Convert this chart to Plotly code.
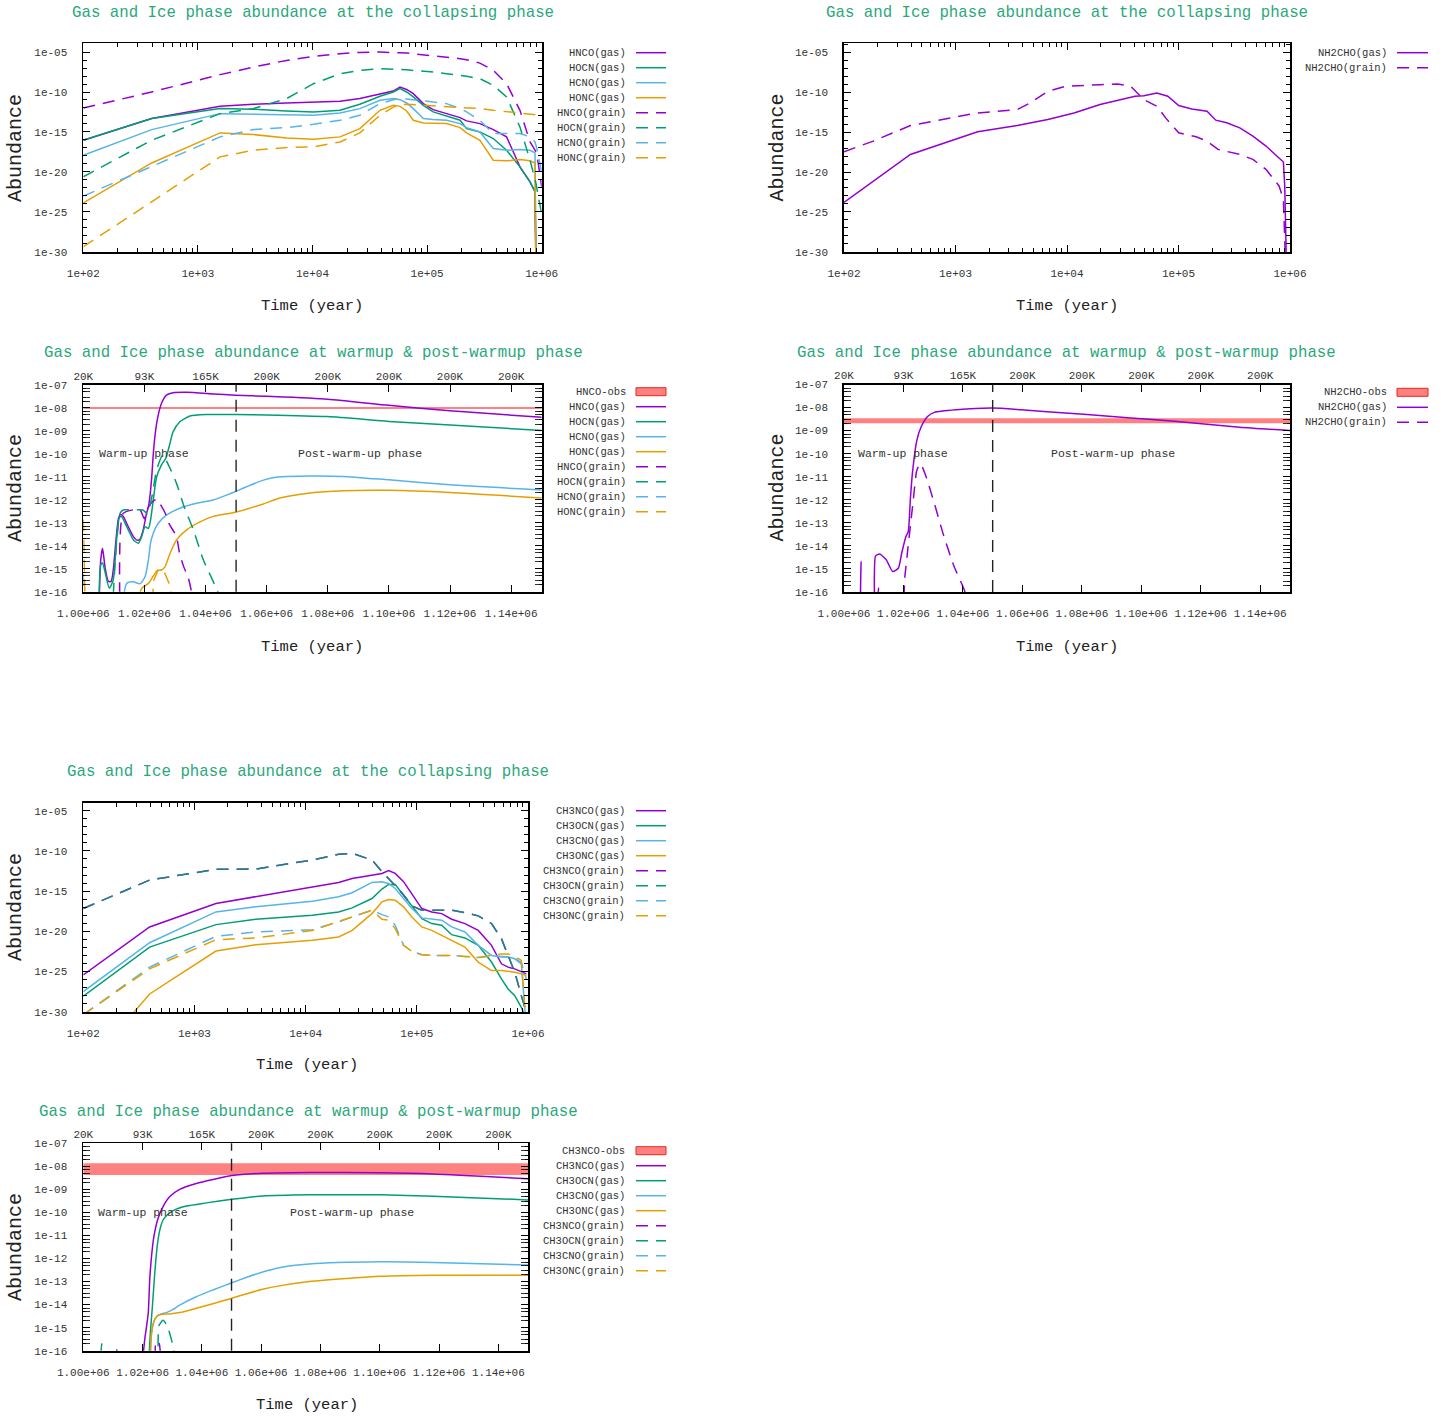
import plotly.graph_objects as go

W, H = 1445, 1418
FONT = "Liberation Mono"
PURPLE, GREEN, BLUE, ORANGE = "#9400d3", "#009e73", "#56b4e9", "#e69f00"
OBS_FILL, OBS_EDGE = "#ff8080", "#e8281e"
TITLE_C = "#2aa87c"
TXT = "#333333"
DASH = "12px,8px"

# ------------------------------------------------------------------ ticks
col_xticks = [1e2, 1e3, 1e4, 1e5, 1e6]
col_xlabels = ["1e+02", "1e+03", "1e+04", "1e+05", "1e+06"]
col_yticks = [1e-30, 1e-25, 1e-20, 1e-15, 1e-10, 1e-05]
col_ylabels = ["1e-30", "1e-25", "1e-20", "1e-15", "1e-10", "1e-05"]
warm_xticks = [1.00e6, 1.02e6, 1.04e6, 1.06e6, 1.08e6, 1.10e6, 1.12e6, 1.14e6]
warm_xlabels = ["1.00e+06", "1.02e+06", "1.04e+06", "1.06e+06", "1.08e+06", "1.10e+06", "1.12e+06", "1.14e+06"]
temp_labels = ["20K", "93K", "165K", "200K", "200K", "200K", "200K", "200K"]
warm_yticks = [1e-16, 1e-15, 1e-14, 1e-13, 1e-12, 1e-11, 1e-10, 1e-09, 1e-08, 1e-07]
warm_ylabels = ["1e-16", "1e-15", "1e-14", "1e-13", "1e-12", "1e-11", "1e-10", "1e-09", "1e-08", "1e-07"]
WARM_RANGE = [1.00e6, 1.15e6]
WARM_END = 1.05e6

# ------------------------------------------------------------------ panel 1: HNCO isomers, collapse
t_col1 = [100, 395, 1560, 3040, 5940, 10200, 17400, 25900, 38800, 50700, 58000, 66300, 75800, 92700,
          113000, 148000, 194000, 221000, 289000, 378000, 494000, 646000, 791000, 874000, 891000,
          934000, 1000000]
hnco_gas = [9.1e-17, 4.7e-14, 1.6e-12, 2.9e-12, 4.2e-12, 5.6e-12, 6.8e-12, 1.5e-11, 5.1e-11, 1.3e-10,
            4.2e-10, 2.1e-10, 6.2e-11, 3.5e-12, 6.2e-13, 1.95e-13, 6.2e-14, 2.4e-14, 1.1e-14, 1.95e-15,
            2.4e-16, 4.2e-20, 5.6e-22, 3.2e-23, 1e-32, 1e-32, 1e-32]
hocn_gas = [9.1e-17, 4.7e-14, 8.3e-13, 6.8e-13, 4.2e-13, 3.2e-13, 5.1e-13, 2.9e-12, 2.9e-11, 1e-10,
            2.6e-10, 1e-10, 2.4e-11, 2.15e-12, 3.2e-13, 9.1e-14, 2.9e-14, 2.6e-15, 1e-15, 1.5e-16,
            5.1e-18, 4.2e-20, 5.6e-22, 3.2e-23, 1e-32, 1e-32, 1e-32]
hcno_gas = [1.2e-18, 1.95e-15, 1.95e-13, 1.6e-13, 1.2e-13, 1.2e-13, 2.4e-13, 8.3e-13, 9.1e-12, 1.5e-11,
            1.1e-11, 4.2e-12, 8.3e-13, 4.7e-14, 3.5e-14, 2.9e-14, 1.1e-14, 3.5e-15, 1e-15, 8.3e-18,
            5.1e-18, 6.2e-18, 5.1e-18, 2.4e-18, 1e-32, 1e-32, 1e-32]
honc_gas = [1.3e-24, 1.3e-19, 7.5e-16, 4.7e-16, 1.8e-16, 1.2e-16, 2.4e-16, 2.6e-15, 5.1e-13, 2.15e-12,
            1.6e-12, 4.2e-13, 2.9e-14, 1.3e-14, 1.2e-14, 1.1e-14, 3.5e-15, 7.5e-16, 9.1e-17, 2.9e-19,
            2.4e-19, 3.5e-19, 2.4e-19, 1.3e-19, 1e-32, 1e-32, 1e-32]
hnco_grain = [1e-12, 1e-10, 1.5e-8, 1.3e-7, 9.1e-7, 2.9e-6, 6.2e-6, 9.1e-6, 1e-5, 1e-5, 8.3e-6, 7.5e-6,
              6.2e-6, 5.1e-6, 3.8e-6, 2.4e-6, 1.5e-6, 1.1e-6, 4.2e-7, 5.1e-8, 1.1e-9, 5.1e-13, 5.6e-17,
              5.1e-18, 2.9e-18, 1.1e-19, 1.3e-22]
hocn_grain = [2.4e-21, 9.1e-17, 1.95e-13, 8.3e-13, 1.5e-11, 1.1e-9, 1.95e-8, 5.1e-8, 8.3e-8, 7.5e-8,
              6.8e-8, 6.2e-8, 5.1e-8, 4.2e-8, 3.2e-8, 1.95e-8, 1.2e-8, 9.1e-9, 4.7e-9, 6.8e-10, 2.4e-11,
              4.2e-15, 2.9e-19, 9.1e-22, 3.8e-22, 7.5e-24, 6.3e-26]
hcno_grain = [9.1e-24, 5.1e-20, 2.4e-16, 1.95e-15, 3.5e-15, 9.1e-15, 2.9e-14, 1.2e-13, 3.5e-12, 1.1e-11,
              1.5e-11, 1.3e-11, 1.1e-11, 7.5e-12, 5.6e-12, 3.5e-12, 8.3e-13, 3.2e-13, 2.9e-14, 6.2e-16,
              6.2e-16, 6.2e-16, 2.4e-16, 5.6e-17, 2.2e-17, 1.2e-18, 6.3e-21]
honc_grain = [4.2e-30, 1.8e-24, 7.5e-19, 5.1e-18, 1.1e-17, 1.3e-17, 5.6e-17, 7.5e-16, 1.2e-13, 1.3e-12,
              2.6e-12, 2.9e-12, 2.6e-12, 2.4e-12, 1.95e-12, 1.6e-12, 1.3e-12, 1.2e-12, 8.3e-13, 5.1e-13,
              3.5e-13, 2.4e-13, 1.8e-13, 1.6e-13, 1.6e-13, 1.3e-13, 1.2e-13]

# ------------------------------------------------------------------ panel 2: NH2CHO, collapse
t_nh2cho_gas = [100, 394, 1580, 3580, 6730, 11560, 19800, 40800, 48900, 64000, 80200, 100400, 131600,
                180300, 216000, 270500, 354500, 464900, 609000, 873000, 897000, 930000]
nh2cho_gas = [1.5e-24, 1.6e-18, 1.1e-15, 6.8e-15, 3.8e-14, 2.6e-13, 2.9e-12, 3.2e-11, 3.8e-11, 8.3e-11,
              3.2e-11, 2.15e-12, 8.3e-13, 4.2e-13, 3.2e-14, 1.5e-14, 3.5e-15, 3.2e-16, 1.8e-17, 1.8e-19,
              1.8e-22, 1e-32]
t_nh2cho_grain = [100, 183, 394, 773, 1580, 3580, 4690, 6730, 9640, 19800, 28400, 37300, 48900, 64000,
                  76700, 100400, 144000, 180300, 226000, 354500, 464900, 609000, 798000, 873000, 897000,
                  914000]
nh2cho_grain = [3.5e-18, 7.5e-17, 6.8e-15, 3.8e-14, 2.6e-13, 6.8e-13, 4.7e-12, 1.3e-10, 5.6e-10, 9.1e-10,
                1.1e-9, 5.6e-10, 1.2e-11, 1.8e-12, 6.2e-14, 8.3e-16, 2.6e-16, 7.5e-17, 6.8e-18, 1.6e-18,
                3.8e-19, 2.15e-20, 1.8e-22, 3.8e-24, 2.6e-28, 1e-32]

# ------------------------------------------------------------------ panel 3: HNCO isomers, warm-up
hnco_obs = [9.1e-9, 1.1e-8]
t3_hnco_gas = [1004900, 1005700, 1006300, 1007100, 1008200, 1009100, 1009800, 1010700, 1011500, 1012200,
               1013100, 1014700, 1016400, 1017400, 1018500, 1019600, 1020700, 1021300, 1021800, 1022400,
               1023100, 1024200, 1025600, 1027300, 1029400, 1033800, 1042500, 1049800, 1060000, 1080000,
               1100000, 1120000, 1150000]
w_hnco_gas = [1e-18, 2.4e-15, 7.8e-15, 1.2e-15, 2.8e-16, 2.8e-16, 8.7e-16, 1.8e-14, 1.5e-13, 2.3e-13,
              1.9e-13, 6.8e-14, 2.5e-14, 1.8e-14, 1.9e-14, 4.9e-14, 2.6e-13, 5.0e-13, 1.4e-12, 1.0e-11,
              2.1e-10, 3.0e-9, 1.6e-8, 3.7e-8, 4.6e-8, 4.8e-8, 4.1e-8, 3.6e-8, 3.2e-8, 2.4e-8, 1.3e-8,
              7.6e-9, 3.9e-9]
t3_hocn_gas = [1005000, 1005700, 1006300, 1007100, 1008500, 1009800, 1010900, 1011800, 1012500, 1014200,
               1016400, 1018000, 1019100, 1020200, 1021300, 1022000, 1022900, 1024000, 1025600, 1027000,
               1028100, 1029400, 1031600, 1034900, 1040300, 1050000, 1060000, 1080000, 1100000, 1120000,
               1150000]
w_hocn_gas = [1e-18, 1.45e-15, 1.8e-15, 7.4e-16, 1.4e-16, 3.3e-16, 1.8e-14, 1.7e-13, 1.85e-13, 6.8e-14,
              1.8e-14, 1.3e-14, 2.5e-14, 6.8e-14, 5.7e-14, 1.3e-13, 9.8e-13, 1.0e-11, 3.3e-11, 6.5e-11,
              2.1e-10, 9.3e-10, 2.5e-9, 4.5e-9, 5.2e-9, 5.2e-9, 5.0e-9, 4.2e-9, 2.6e-9, 1.8e-9, 1.05e-9]
t3_hcno_gas = [1012500, 1014200, 1016400, 1018500, 1020200, 1021300, 1022000, 1022900, 1024500, 1027300,
               1031600, 1037100, 1042500, 1046900, 1049800, 1053400, 1058900, 1064300, 1074200, 1085000,
               1100000, 1120000, 1150000]
w_hcno_gas = [1e-17, 2.3e-16, 2.7e-16, 2.2e-16, 4.5e-16, 2.4e-15, 1.3e-14, 3.5e-14, 9.5e-14, 2.2e-13,
              4.3e-13, 7.1e-13, 9.8e-13, 1.6e-12, 2.3e-12, 3.7e-12, 7.2e-12, 1.0e-11, 1.1e-11, 1.05e-11,
              7.4e-12, 4.5e-12, 2.7e-12]
t3_honc_gas = [1016900, 1019100, 1021300, 1022900, 1024200, 1025600, 1026700, 1028400, 1030500, 1033800,
               1038200, 1042500, 1049800, 1058900, 1064300, 1074200, 1085000, 1100000, 1120000, 1150000]
w_honc_gas = [1e-17, 1.4e-16, 2.3e-16, 4.8e-16, 8.2e-16, 8.8e-16, 1.2e-15, 4.7e-15, 1.8e-14, 4.9e-14,
              1.1e-13, 1.9e-13, 2.9e-13, 6.6e-13, 1.2e-12, 2.0e-12, 2.5e-12, 2.6e-12, 2.1e-12, 1.2e-12]
t3_hnco_grain = [1012000, 1013000, 1016000, 1018500, 1020000, 1021000, 1022500, 1024000, 1026700, 1028100,
                 1030500, 1031400, 1032700, 1034400, 1036000]
w_hnco_grain = [1e-17, 2.5e-13, 3.6e-13, 3.8e-13, 1.5e-13, 4e-13, 8e-13, 1.05e-12, 2.8e-13, 9e-14, 2.5e-14,
                5.5e-15, 1.4e-15, 3.8e-16, 4e-17]
t3_hocn_grain = [1009500, 1010500, 1012000, 1013000, 1016000, 1019500, 1021000, 1022500, 1024000, 1026000,
                 1028000, 1030500, 1033000, 1036000, 1039300, 1044200, 1046000]
w_hocn_grain = [1e-17, 3e-15, 2.5e-13, 3.6e-13, 3.6e-13, 3.6e-13, 2.5e-13, 1.5e-12, 2e-11, 9e-11, 3e-11,
                5.2e-12, 5e-13, 5e-14, 2.4e-15, 8.5e-17, 1e-17]
t3_hcno_grain = [1000000, 1000300, 1000600]
w_hcno_grain = [6e-16, 1.2e-16, 1e-18]
t3_honc_grain = [1000000, 1000250, 1000500, 1000800, 1022000, 1023000, 1024500, 1026200, 1028000, 1029500]
w_honc_grain = [1.4e-13, 1e-14, 1e-16, 1e-18, 1e-18, 3e-16, 9e-16, 9e-16, 2.4e-16, 3e-17]

# ------------------------------------------------------------------ panel 4: NH2CHO, warm-up
nh2cho_obs = [2.1e-9, 3.4e-9]
t4_gas = [1005300, 1005720, 1006300, 1009500, 1010600, 1012000, 1014200, 1016400, 1018300, 1019400,
          1020800, 1021600, 1022300, 1023000, 1024500, 1026000, 1028200, 1030400, 1037700, 1049900,
          1059700, 1074400, 1089100, 1103800, 1118400, 1133100, 1150000]
w_nh2cho_gas = [1e-18, 2.1e-15, 1e-18, 1e-18, 3.6e-15, 4.4e-15, 2.5e-15, 7.7e-16, 1.1e-15, 4.8e-15,
                2.5e-14, 4.1e-14, 9.8e-13, 1.4e-11, 3.8e-10, 1.5e-9, 4.2e-9, 6.2e-9, 8.0e-9, 9.5e-9,
                8.0e-9, 5.8e-9, 4.2e-9, 3.0e-9, 2.1e-9, 1.4e-9, 1.0e-9]
t4_grain = [1011000, 1011600, 1012500, 1018500, 1020500, 1021500, 1022300, 1023300, 1024500, 1025700,
            1027400, 1030400, 1033300, 1037000, 1040700, 1042000]
w_nh2cho_grain = [1e-18, 1.5e-16, 1e-18, 1e-18, 5e-16, 8e-15, 6.8e-14, 9.8e-13, 1.9e-11, 3.7e-11, 1.2e-11,
                  6.9e-13, 3.5e-14, 1.3e-15, 1e-16, 1e-17]

# ------------------------------------------------------------------ panel 5: CH3 isomers, collapse
t_col5 = [100, 395, 1560, 3560, 11500, 19800, 26200, 39500, 48600, 55700, 63900, 76000, 90200, 110900,
          136300, 167500, 205800, 270700, 356700, 469600, 577000, 662000, 760000, 871000, 966000]
ch3nco_gas = [3.8e-26, 3.5e-20, 2.9e-17, 1.95e-16, 3.5e-15, 1.2e-14, 3.8e-14, 1e-13, 1.6e-13, 3.5e-13,
              1.6e-13, 1.5e-14, 5.1e-16, 6.8e-18, 2.6e-18, 1.6e-18, 3.2e-19, 9.1e-20, 1.3e-20, 1.8e-22,
              9.1e-25, 3.5e-25, 2.15e-25, 8.3e-26, 5.1e-26]
ch3ocn_gas = [8.3e-29, 1.1e-22, 6.8e-20, 3.2e-19, 1e-18, 2.6e-18, 8.3e-18, 1.2e-16, 1.8e-15, 6.8e-15,
              6.8e-15, 3.2e-16, 1.1e-17, 3.8e-19, 9.1e-20, 5.6e-20, 3.8e-21, 1.5e-21, 1.8e-22, 1.5e-24,
              1.2e-26, 6.8e-28, 1e-28, 3.5e-30, 1.2e-31]
ch3cno_gas = [3.2e-28, 3.8e-22, 2.6e-18, 1.1e-17, 5.6e-17, 1.95e-16, 6.2e-16, 1.2e-14, 1.5e-14, 9.1e-15,
              2.15e-15, 1.2e-16, 6.8e-18, 4.7e-19, 3.2e-19, 2.4e-19, 3.5e-20, 8.3e-21, 1.8e-22, 1e-23,
              6.2e-24, 6.2e-24, 3.8e-24, 9.1e-25, 1e-32]
ch3onc_gas = [4e-38, 1.6e-28, 3.5e-23, 2.15e-22, 7.5e-22, 1.95e-21, 1.3e-20, 1.6e-18, 4.7e-17, 9.1e-17,
              7.5e-17, 1.1e-17, 6.2e-19, 3.5e-20, 1.3e-20, 3.2e-21, 7.5e-22, 1.1e-22, 1.5e-24, 1.3e-25,
              1.3e-25, 1e-25, 8.3e-26, 5.1e-26, 3.2e-26]
ch3nco_grain = [6.8e-18, 2.4e-14, 5.1e-13, 5.6e-13, 7.5e-12, 3.8e-11, 5.1e-11, 7.5e-12, 2.6e-13, 3.8e-14,
                4.7e-15, 3.2e-16, 1.5e-17, 4.2e-18, 4.2e-18, 5.1e-18, 4.2e-18, 2.15e-18, 8.3e-19, 9.1e-20,
                1.2e-21, 1e-23, 8.3e-26, 1e-28, 8.3e-31]
ch3ocn_grain = [6.8e-18, 2.4e-14, 5.1e-13, 5.6e-13, 7.5e-12, 3.8e-11, 5.1e-11, 7.5e-12, 2.6e-13, 3.8e-14,
                4.7e-15, 3.2e-16, 1.5e-17, 4.2e-18, 4.2e-18, 5.1e-18, 4.2e-18, 2.15e-18, 8.3e-19, 9.1e-20,
                1.2e-21, 1e-23, 8.3e-26, 1e-28, 8.3e-31]
ch3cno_grain = [4.2e-31, 3.5e-25, 2.4e-21, 8.3e-21, 1.6e-20, 1.5e-19, 6.2e-19, 4.2e-18, 1.2e-18, 6.2e-19,
                5.6e-20, 1.8e-22, 3.2e-23, 1.2e-23, 1e-23, 1e-23, 1e-23, 7.5e-24, 5.6e-24, 8.3e-24,
                8.3e-24, 6.8e-24, 4.7e-24, 1.2e-24, 1.2e-26]
ch3onc_grain = [4.2e-31, 2.15e-25, 9.1e-22, 1.5e-21, 1.3e-20, 1.5e-19, 6.2e-19, 4.2e-18, 3.2e-19, 2.4e-19,
                2.15e-20, 1.8e-22, 3.2e-23, 1.2e-23, 1e-23, 1e-23, 1e-23, 7.5e-24, 5.6e-24, 1e-23, 1.5e-23,
                1.5e-23, 8.3e-24, 2.4e-24, 1e-32]

# ------------------------------------------------------------------ panel 6: CH3 isomers, warm-up
ch3nco_obs = [4.2e-9, 1.35e-8]
t6_ch3nco_gas = [1019600, 1020700, 1021900, 1022400, 1023000, 1023800, 1025200, 1026900, 1029100, 1032500,
                 1038100, 1043700, 1050100, 1060500, 1076200, 1100000, 1118000, 1150000]
w_ch3nco_gas = [1e-17, 2.9e-16, 4.2e-15, 1.2e-13, 1.2e-12, 8.9e-12, 5.5e-11, 1.8e-10, 4.8e-10, 1.0e-9,
                1.8e-9, 2.7e-9, 4.0e-9, 5.0e-9, 5.4e-9, 5.3e-9, 4.7e-9, 2.9e-9]
t6_ch3ocn_gas = [1021900, 1022600, 1023300, 1024100, 1024900, 1025800, 1026900, 1028300, 1030300, 1034800,
                 1041500, 1050100, 1060500, 1076200, 1100000, 1118000, 1150000]
w_ch3ocn_gas = [1e-17, 5.6e-16, 8.1e-15, 2.3e-13, 3.2e-12, 1.7e-11, 4.7e-11, 7.7e-11, 1.2e-10, 1.9e-10,
                2.6e-10, 3.7e-10, 5.2e-10, 5.9e-10, 5.8e-10, 5.1e-10, 3.5e-10]
t6_ch3cno_gas = [1022400, 1023000, 1023800, 1024900, 1026300, 1028000, 1030300, 1032500, 1038100, 1043700,
                 1050100, 1054900, 1060500, 1066100, 1076200, 1100000, 1118000, 1150000]
w_ch3cno_gas = [1e-17, 5.6e-16, 1.8e-15, 3.2e-15, 3.9e-15, 4.5e-15, 6.2e-15, 9.5e-15, 2.2e-14, 4.3e-14,
                8.9e-14, 1.5e-13, 2.6e-13, 4.0e-13, 5.8e-13, 7.2e-13, 6.8e-13, 5.2e-13]
t6_ch3onc_gas = [1022400, 1023000, 1023800, 1024900, 1026300, 1029100, 1032500, 1038100, 1043700, 1050100,
                 1054900, 1060500, 1066100, 1076200, 1090000, 1100000, 1118000, 1150000]
w_ch3onc_gas = [1e-17, 5.6e-16, 1.8e-15, 3.2e-15, 3.8e-15, 3.9e-15, 4.5e-15, 6.9e-15, 1.1e-14, 1.9e-14,
                2.9e-14, 4.6e-14, 6.5e-14, 1.0e-13, 1.4e-13, 1.7e-13, 1.9e-13, 1.9e-13]
t6_ch3nco_grain = [1010800, 1011300, 1011800, 1023500, 1024500, 1025500, 1026300]
w_ch3nco_grain = [1e-17, 1.1e-16, 1e-17, 1e-17, 2.5e-16, 2.2e-16, 1e-17]
t6_ch3ocn_grain = [1005600, 1006200, 1006900, 1024000, 1025500, 1026900, 1028300, 1030300, 1031500]
w_ch3ocn_grain = [1e-17, 2e-16, 1e-17, 1e-17, 1.2e-15, 2.1e-15, 1.2e-15, 1.5e-16, 1e-17]

# ------------------------------------------------------------------ geometry (screen pixels)
PANELS = {
    1: dict(x=(83.3, 541.7), y=(43.3, 251.7), kind="collapse", yr=(-30, -3.9)),
    2: dict(x=(844.0, 1290.0), y=(43.3, 251.7), kind="collapse", yr=(-30, -3.85)),
    3: dict(x=(83.3, 541.7), y=(385.0, 591.7), kind="warm"),
    4: dict(x=(844.0, 1290.0), y=(384.5, 592.0), kind="warm"),
    5: dict(x=(83.3, 528.0), y=(802.7, 1011.7), kind="collapse", yr=(-30, -4.0)),
    6: dict(x=(83.3, 528.0), y=(1143.3, 1350.7), kind="warm"),
}
TOP_AXIS = {3: 7, 4: 8, 6: 9}


def px(x):
    return x / W


def py(y):
    return 1 - y / H


def sfx(p):
    return "" if p == 1 else str(p)


minor_x = [m * 10 ** k for k in range(2, 6) for m in range(2, 10)]
minor_y_col = [10.0 ** k for k in range(-29, -3) if k % 5 != 0]
minor_y_warm = [m * 10.0 ** k for k in range(-16, -7) for m in (2, 3, 5, 7)]

tickfont = dict(family=FONT, size=11, color=TXT)
layout = {}
for p, g in PANELS.items():
    s = sfx(p)
    base = dict(showline=True, linecolor="black", linewidth=1.8, mirror="allticks", ticks="inside",
                ticklen=7, tickwidth=1, tickcolor="black", showgrid=False, zeroline=False,
                tickfont=tickfont, automargin=False)
    minor_style = dict(ticks="inside", ticklen=4, tickwidth=1, tickcolor="black", showgrid=False)
    if g["kind"] == "collapse":
        xa = dict(base, type="log", range=[2, 6], tickmode="array", tickvals=col_xticks, ticktext=col_xlabels,
                  minor=dict(minor_style, tickmode="array", tickvals=minor_x), ticklabelstandoff=10)
        ya = dict(base, type="log", range=list(g["yr"]), tickmode="array", tickvals=col_yticks,
                  ticktext=col_ylabels, minor=dict(minor_style, tickmode="array", tickvals=minor_y_col),
                  ticklabelstandoff=12)
    else:
        xa = dict(base, type="linear", range=WARM_RANGE, tickmode="array", tickvals=warm_xticks,
                  ticktext=warm_xlabels, ticklabelstandoff=10)
        ya = dict(base, type="log", range=[-16, -7], tickmode="array", tickvals=warm_yticks,
                  ticktext=warm_ylabels, minor=dict(minor_style, ticklen=3, tickwidth=0.8, tickmode="array",
                                                    tickvals=minor_y_warm), ticklabelstandoff=12)
    xa.update(domain=[px(g["x"][0]), px(g["x"][1])], anchor="y" + s)
    ya.update(domain=[py(g["y"][1]), py(g["y"][0])], anchor="x" + s)
    layout["xaxis" + s] = xa
    layout["yaxis" + s] = ya
    if p in TOP_AXIS:
        layout["xaxis%d" % TOP_AXIS[p]] = dict(
            overlaying="x" + s, side="top", anchor="y" + s, range=WARM_RANGE, type="linear",
            domain=[px(g["x"][0]), px(g["x"][1])],
            tickmode="array", tickvals=warm_xticks, ticktext=temp_labels, showline=False, ticks="",
            showgrid=False, zeroline=False, tickfont=tickfont, ticklabelstandoff=2, automargin=False)

fig = go.Figure()


def add_line(p, t, y, color, dash=False, name="", shape="linear", opacity=1.0):
    s = sfx(p)
    fig.add_trace(go.Scatter(
        x=t, y=y, mode="lines", name=name, showlegend=False, opacity=opacity, hoverinfo="skip",
        line=dict(color=color, width=1.5, dash=DASH if dash else "solid", shape=shape,
                  smoothing=0.6 if shape == "spline" else None),
        xaxis="x" + s, yaxis="y" + s))


def add_obs(p, band, name):
    s = sfx(p)
    lo, hi = band
    x0, x1 = WARM_RANGE
    fig.add_trace(go.Scatter(
        x=[x0, x1, x1, x0, x0], y=[lo, lo, hi, hi, lo], mode="lines", fill="toself",
        fillcolor=OBS_FILL, line=dict(width=0, color=OBS_FILL), name=name, showlegend=False,
        hoverinfo="skip", xaxis="x" + s, yaxis="y" + s))


# panel 1
add_line(1, t_col1, hnco_gas, PURPLE, name="HNCO(gas)")
add_line(1, t_col1, hocn_gas, GREEN, name="HOCN(gas)")
add_line(1, t_col1, hcno_gas, BLUE, name="HCNO(gas)")
add_line(1, t_col1, honc_gas, ORANGE, name="HONC(gas)")
add_line(1, t_col1, hnco_grain, PURPLE, True, "HNCO(grain)")
add_line(1, t_col1, hocn_grain, GREEN, True, "HOCN(grain)")
add_line(1, t_col1, hcno_grain, BLUE, True, "HCNO(grain)")
add_line(1, t_col1, honc_grain, ORANGE, True, "HONC(grain)")
# panel 2
add_line(2, t_nh2cho_gas, nh2cho_gas, PURPLE, name="NH2CHO(gas)")
add_line(2, t_nh2cho_grain, nh2cho_grain, PURPLE, True, "NH2CHO(grain)")
# panel 3
SP = "spline"
add_obs(3, hnco_obs, "HNCO-obs")
add_line(3, t3_hnco_gas, w_hnco_gas, PURPLE, name="HNCO(gas)", shape=SP)
add_line(3, t3_hocn_gas, w_hocn_gas, GREEN, name="HOCN(gas)", shape=SP)
add_line(3, t3_hcno_gas, w_hcno_gas, BLUE, name="HCNO(gas)", shape=SP)
add_line(3, t3_honc_gas, w_honc_gas, ORANGE, name="HONC(gas)", shape=SP)
add_line(3, t3_hnco_grain, w_hnco_grain, PURPLE, True, "HNCO(grain)", SP)
add_line(3, t3_hocn_grain, w_hocn_grain, GREEN, True, "HOCN(grain)", SP)
add_line(3, t3_hcno_grain, w_hcno_grain, BLUE, True, "HCNO(grain)")
add_line(3, t3_honc_grain, w_honc_grain, ORANGE, True, "HONC(grain)")
# panel 4
add_obs(4, nh2cho_obs, "NH2CHO-obs")
add_line(4, t4_gas, w_nh2cho_gas, PURPLE, name="NH2CHO(gas)", shape=SP)
add_line(4, t4_grain, w_nh2cho_grain, PURPLE, True, "NH2CHO(grain)", SP)
# panel 5
add_line(5, t_col5, ch3nco_gas, PURPLE, name="CH3NCO(gas)")
add_line(5, t_col5, ch3ocn_gas, GREEN, name="CH3OCN(gas)")
add_line(5, t_col5, ch3cno_gas, BLUE, name="CH3CNO(gas)")
add_line(5, t_col5, ch3onc_gas, ORANGE, name="CH3ONC(gas)")
add_line(5, t_col5, ch3nco_grain, PURPLE, True, "CH3NCO(grain)")
add_line(5, t_col5, ch3ocn_grain, GREEN, True, "CH3OCN(grain)", opacity=0.85)
add_line(5, t_col5, ch3cno_grain, BLUE, True, "CH3CNO(grain)")
add_line(5, t_col5, ch3onc_grain, ORANGE, True, "CH3ONC(grain)")
# panel 6
add_obs(6, ch3nco_obs, "CH3NCO-obs")
add_line(6, t6_ch3nco_gas, w_ch3nco_gas, PURPLE, name="CH3NCO(gas)", shape=SP)
add_line(6, t6_ch3ocn_gas, w_ch3ocn_gas, GREEN, name="CH3OCN(gas)", shape=SP)
add_line(6, t6_ch3cno_gas, w_ch3cno_gas, BLUE, name="CH3CNO(gas)", shape=SP)
add_line(6, t6_ch3onc_gas, w_ch3onc_gas, ORANGE, name="CH3ONC(gas)", shape=SP)
add_line(6, t6_ch3nco_grain, w_ch3nco_grain, PURPLE, True, "CH3NCO(grain)", SP)
add_line(6, t6_ch3ocn_grain, w_ch3ocn_grain, GREEN, True, "CH3OCN(grain)", SP)

# invisible anchors so the temperature (top) axes are rendered
for p, a in TOP_AXIS.items():
    fig.add_trace(go.Scatter(x=[WARM_RANGE[0]], y=[1e-7], mode="markers", marker=dict(opacity=0),
                             showlegend=False, hoverinfo="skip", xaxis="x%d" % a, yaxis="y" + sfx(p)))

annotations = []
shapes = []

# titles / axis titles
TITLE_COL = "Gas and Ice phase abundance at the collapsing phase"
TITLE_WARM = "Gas and Ice phase abundance at warmup & post-warmup phase"
titles = [(TITLE_COL, 313, 13.3), (TITLE_COL, 1066.6, 13.3), (TITLE_WARM, 313, 353.3),
          (TITLE_WARM, 1066.8, 353.3), (TITLE_COL, 308, 771.7), (TITLE_WARM, 308, 1111.7)]
for text, x, y in titles:
    annotations.append(dict(text=text, x=px(x), y=py(y), xref="paper", yref="paper", showarrow=False,
                            xanchor="center", yanchor="middle",
                            font=dict(family=FONT, size=15.75, color=TITLE_C)))
for x, y in [(311.5, 306), (1067, 306), (312, 647), (1067, 647), (306.6, 1065), (306.6, 1405)]:
    annotations.append(dict(text="Time (year)", x=px(x), y=py(y), xref="paper", yref="paper",
                            showarrow=False, xanchor="center", yanchor="middle",
                            font=dict(family=FONT, size=15.5, color="#222222")))
for x, y in [(15, 148), (776.6, 148), (15, 488), (776.6, 488), (15, 907), (15, 1247)]:
    annotations.append(dict(text="Abundance", x=px(x), y=py(y), xref="paper", yref="paper",
                            showarrow=False, xanchor="center", yanchor="middle", textangle=-90,
                            font=dict(family=FONT, size=20, color="#222222")))

# warm-up phase markers
for p in (3, 4, 6):
    s = sfx(p)
    shapes.append(dict(type="line", xref="x" + s, yref="y%s domain" % s, x0=WARM_END, x1=WARM_END,
                       y0=0, y1=1, line=dict(color="#222222", width=1.4, dash=DASH)))
    annotations.append(dict(text="Warm-up phase", x=1.0200e6, y=-10, xref="x" + s, yref="y" + s,
                            showarrow=False, xanchor="center", yanchor="middle",
                            font=dict(family=FONT, size=11.5, color=TXT)))
    annotations.append(dict(text="Post-warm-up phase", x=1.0905e6, y=-10, xref="x" + s, yref="y" + s,
                            showarrow=False, xanchor="center", yanchor="middle",
                            font=dict(family=FONT, size=11.5, color=TXT)))

# legends (gnuplot style: right-aligned text, sample on the right)
legends = [
    (628, 636, 666, 52.7, [("HNCO(gas)", PURPLE, "solid"), ("HOCN(gas)", GREEN, "solid"),
                           ("HCNO(gas)", BLUE, "solid"), ("HONC(gas)", ORANGE, "solid"),
                           ("HNCO(grain)", PURPLE, "dash"), ("HOCN(grain)", GREEN, "dash"),
                           ("HCNO(grain)", BLUE, "dash"), ("HONC(grain)", ORANGE, "dash")]),
    (1389, 1397, 1428, 52.7, [("NH2CHO(gas)", PURPLE, "solid"), ("NH2CHO(grain)", PURPLE, "dash")]),
    (628, 636, 666, 391.7, [("HNCO-obs", None, "obs"),
                            ("HNCO(gas)", PURPLE, "solid"), ("HOCN(gas)", GREEN, "solid"),
                            ("HCNO(gas)", BLUE, "solid"), ("HONC(gas)", ORANGE, "solid"),
                            ("HNCO(grain)", PURPLE, "dash"), ("HOCN(grain)", GREEN, "dash"),
                            ("HCNO(grain)", BLUE, "dash"), ("HONC(grain)", ORANGE, "dash")]),
    (1389, 1397, 1428, 392.3, [("NH2CHO-obs", None, "obs"), ("NH2CHO(gas)", PURPLE, "solid"),
                               ("NH2CHO(grain)", PURPLE, "dash")]),
    (627, 636, 666, 810.7, [("CH3NCO(gas)", PURPLE, "solid"), ("CH3OCN(gas)", GREEN, "solid"),
                            ("CH3CNO(gas)", BLUE, "solid"), ("CH3ONC(gas)", ORANGE, "solid"),
                            ("CH3NCO(grain)", PURPLE, "dash"), ("CH3OCN(grain)", GREEN, "dash"),
                            ("CH3CNO(grain)", BLUE, "dash"), ("CH3ONC(grain)", ORANGE, "dash")]),
    (627, 636, 666, 1150.7, [("CH3NCO-obs", None, "obs"),
                             ("CH3NCO(gas)", PURPLE, "solid"), ("CH3OCN(gas)", GREEN, "solid"),
                             ("CH3CNO(gas)", BLUE, "solid"), ("CH3ONC(gas)", ORANGE, "solid"),
                             ("CH3NCO(grain)", PURPLE, "dash"), ("CH3OCN(grain)", GREEN, "dash"),
                             ("CH3CNO(grain)", BLUE, "dash"), ("CH3ONC(grain)", ORANGE, "dash")]),
]
for text_right, s0, s1, y0, rows in legends:
    for i, (label, color, kind) in enumerate(rows):
        y = y0 + 15 * i
        annotations.append(dict(text=label, x=px(text_right), y=py(y), xref="paper", yref="paper",
                                showarrow=False, xanchor="right", yanchor="middle",
                                font=dict(family=FONT, size=10.5, color=TXT)))
        if kind == "obs":
            shapes.append(dict(type="rect", xref="paper", yref="paper", x0=px(s0), x1=px(s1),
                               y0=py(y + 4), y1=py(y - 4), fillcolor=OBS_FILL,
                               line=dict(color=OBS_EDGE, width=1)))
        else:
            shapes.append(dict(type="line", xref="paper", yref="paper", x0=px(s0), x1=px(s1),
                               y0=py(y), y1=py(y),
                               line=dict(color=color, width=1.5, dash=DASH if kind == "dash" else "solid")))

fig.update_layout(
    width=W, height=H, autosize=False, margin=dict(l=0, r=0, t=0, b=0, pad=0, autoexpand=False),
    paper_bgcolor="white", plot_bgcolor="white", showlegend=False,
    font=dict(family=FONT, color=TXT), annotations=annotations, shapes=shapes, **layout)

# the page body normally adds an 8 px margin; remove it so the figure sits at the window origin
fig.write_html("out.html", config={"displayModeBar": False, "staticPlot": True},
               post_script="document.body.style.margin = '0px';")
